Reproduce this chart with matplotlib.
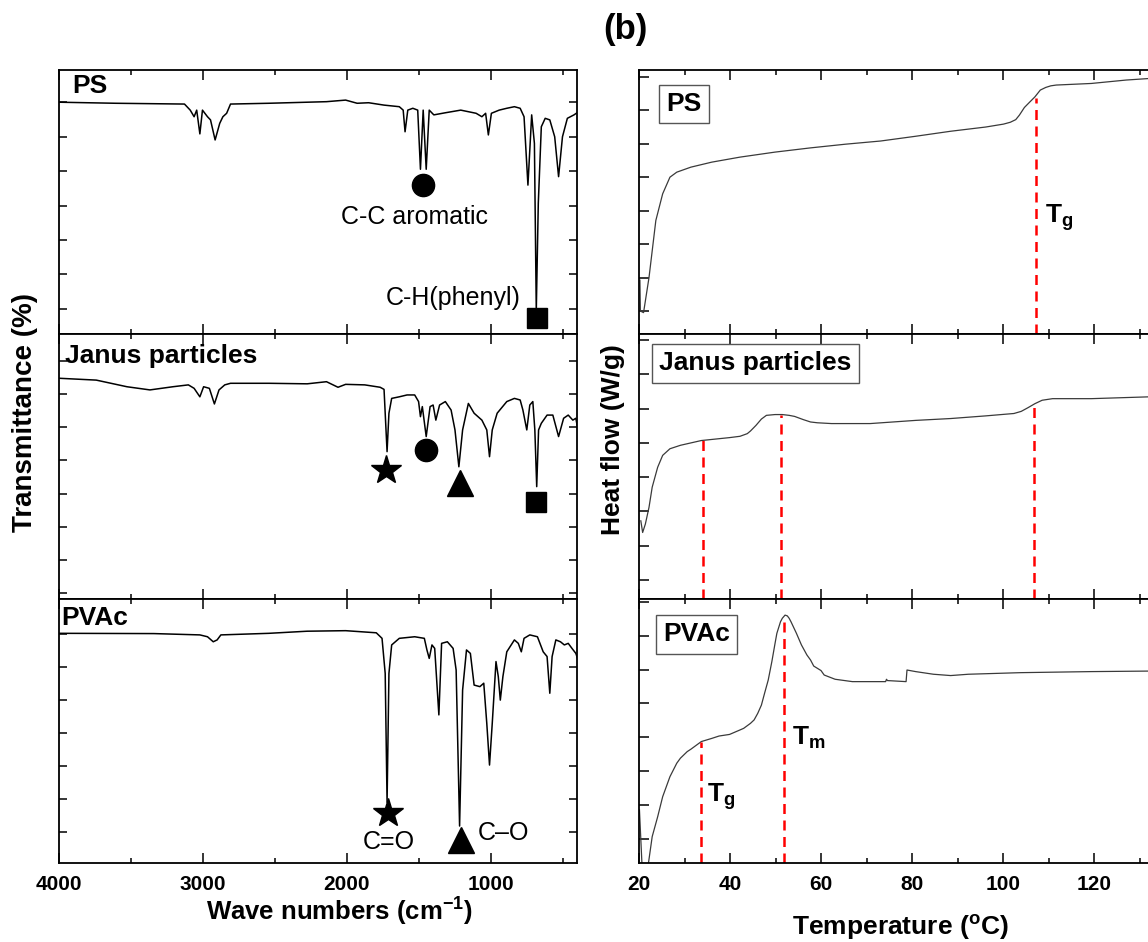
import numpy as np
import matplotlib
matplotlib.use("Agg")
import matplotlib.pyplot as plt

plt.rcParams['font.family'] = ['Liberation Sans', 'DejaVu Sans']
plt.rcParams['mathtext.fontset'] = 'custom'
plt.rcParams['mathtext.rm'] = 'Liberation Sans'
plt.rcParams['mathtext.bf'] = 'Liberation Sans:bold'
plt.rcParams['mathtext.it'] = 'Liberation Sans:italic'

# ---------------- FTIR data (wavenumber cm-1, transmittance in panel %) ----------------
ps_ir_wn = [4000, 3608, 3128, 3088, 3061, 3043, 3021, 3003, 2968, 2947, 2915, 2883, 2861, 2835, 2808,
            2541, 2141, 2008, 1928, 1848, 1741, 1635, 1608, 1595, 1576, 1541, 1507, 1488, 1469, 1448,
            1427, 1395, 1315, 1208, 1101, 1061, 1035, 1016, 995, 941, 888, 835, 795, 768, 741, 715,
            696, 683, 669, 648, 621, 589, 555, 528, 501, 467, 421, 389]
ps_ir_t = [87.8, 87.4, 87.1, 84.8, 82.3, 84.8, 75.8, 84.8, 82.3, 81.1, 73.5, 79.8, 82.3, 83.6, 87.1,
           87.4, 88.0, 88.6, 87.4, 87.6, 86.7, 86.1, 84.8, 76.6, 84.8, 85.5, 84.8, 62.4, 84.8, 62.4,
           84.8, 83.0, 83.8, 84.8, 83.6, 82.3, 83.6, 75.4, 83.6, 84.8, 85.5, 86.1, 85.5, 82.3, 56.4, 83.0,
           72.2, 9.0, 49.5, 78.5, 81.7, 81.1, 74.7, 59.6, 74.7, 81.7, 83.0, 84.2]

janus_ir_wn = [4000, 3741, 3528, 3368, 3208, 3101, 3061, 3021, 2995, 2955, 2920, 2888, 2848, 2808,
               2541, 2275, 2141, 2061, 2008, 1875, 1768, 1741, 1733, 1720, 1707, 1688, 1635, 1581,
               1528, 1501, 1488, 1475, 1448, 1421, 1400, 1381, 1355, 1315, 1275, 1248, 1221, 1195,
               1155, 1115, 1061, 1027, 1008, 989, 955, 888, 835, 795, 776, 749, 728, 707, 693, 680,
               667, 648, 608, 568, 528, 493, 461, 429, 408, 389]
janus_ir_t = [83.3, 82.6, 80.1, 78.9, 80.1, 80.8, 79.5, 76.3, 80.1, 79.5, 73.6, 78.9, 80.8, 81.4,
              81.4, 81.2, 82.0, 79.9, 81.0, 80.8, 79.9, 79.1, 70.1, 55.6, 70.1, 75.7, 76.3, 77.0,
              77.0, 74.5, 68.8, 72.6, 61.3, 72.6, 73.2, 67.5, 73.2, 74.5, 71.3, 63.8, 49.9, 63.8,
              73.8, 70.1, 67.5, 63.8, 53.7, 63.8, 70.1, 74.5, 75.7, 75.1, 71.3, 63.8, 73.2, 74.5, 63.8, 42.4,
              63.8, 66.3, 69.4, 69.4, 61.3, 68.2, 69.4, 67.5, 68.2, 62.5]

pvac_ir_wn = [4000, 3341, 3021, 2968, 2928, 2901, 2875, 2541, 2275, 2008, 1795, 1755, 1733, 1720,
              1707, 1688, 1635, 1528, 1461, 1443, 1427, 1408, 1389, 1360, 1341, 1301, 1261, 1240,
              1216, 1195, 1168, 1141, 1115, 1075, 1048, 1027, 1008, 989, 963, 947, 933, 915, 888,
              835, 808, 787, 768, 728, 675, 635, 608, 589, 573, 547, 515, 488, 461, 435, 408, 389]
pvac_ir_t = [87.0, 86.9, 86.4, 85.7, 83.8, 84.5, 86.4, 87.0, 87.8, 88.0, 87.2, 85.1, 71.8, 23.0,
             71.8, 82.6, 85.1, 85.7, 85.1, 80.7, 77.5, 82.6, 81.3, 56.1, 83.2, 83.8, 81.3, 73.1,
             14.0, 65.5, 80.7, 79.4, 67.4, 66.8, 68.1, 52.9, 37.1, 52.9, 76.3, 70.6, 61.7, 70.6, 80.0,
             84.5, 83.2, 80.0, 85.1, 86.4, 85.7, 80.0, 78.2, 64.3, 78.2, 84.5, 83.8, 82.6, 83.2, 81.3, 79.4, 76.3]

# band markers (wavenumber, transmittance) and labels
ps_circle = (1467, 56.4)
ps_square = (680, 5.9)
ps_labels = [("C-C aromatic", 1528, 44.4), ("C-H(phenyl)", 1261, 13.5)]
janus_star = (1728, 48.7)
janus_circle = (1448, 56.2)
janus_triangle = (1216, 43.6)
janus_square = (688, 36.7)
pvac_star = (1715, 18.8)
pvac_triangle = (1208, 8.7)
pvac_labels = [("C=O", 1709, 8.1), ("C\u2013O", 1088, 11.5)]

# ---------------- DSC data (temperature degC, heat flow in panel %) ----------------
ps_dsc_temp = [20.2, 20.3, 21.0, 22.2, 23.7, 25.2, 26.8, 28.3, 31.4, 36.0, 42.2, 49.9, 57.7, 65.4,
               73.1, 80.8, 88.5, 96.2, 100.1, 101.6, 102.8, 103.6, 104.7, 105.9, 107.0, 108.2, 109.4,
               110.5, 111.7, 119.4, 127.1, 132.3, 140.0]
ps_dsc_hf = [20.4, 8.7, 8.1, 21.4, 43.0, 53.1, 59.4, 61.3, 63.2, 65.1, 67.0, 68.9, 70.5, 71.9,
             73.1, 74.9, 76.8, 78.4, 79.5, 80.2, 81.2, 82.9, 85.8, 87.9, 89.8, 92.4, 93.4,
             94.0, 94.3, 94.9, 96.2, 96.8, 97.3]

janus_dsc_temp = [20.4, 20.8, 21.4, 22.2, 22.9, 24.1, 25.2, 26.8, 29.1, 33.7,
                  39.9, 42.2, 43.8, 44.5, 45.7, 46.9, 48.0, 49.9, 51.5, 53.0,
                  54.2, 56.1, 57.7, 59.2, 62.3, 70.8, 80.8, 88.5, 96.2, 102.4,
                  104.0, 105.5, 107.0, 108.6, 110.9, 119.4, 132.3, 140.0]
janus_dsc_hf = [29.5, 25.1, 28.3, 34.6, 42.2, 49.7, 54.2, 56.7, 58.0, 59.8,
                60.9, 61.4, 62.4, 63.4, 65.5, 67.9, 69.3, 69.6, 69.6, 69.3,
                68.9, 67.7, 66.8, 66.5, 66.2, 66.2, 67.4, 68.1, 69.1, 70.0,
                70.8, 72.2, 73.7, 75.0, 75.6, 75.6, 76.3, 76.5]

pvac_dsc_temp = [20.1, 20.8, 22.0, 22.9, 24.1, 25.2, 26.8, 28.3, 29.1, 30.6, 31.4, 33.7, 36.0, 37.6,
                 39.9, 42.2, 43.0, 44.5, 45.3, 46.1, 46.9, 47.6, 48.4, 49.2, 49.9, 50.3, 51.1, 51.5,
                 52.1, 52.6, 53.0, 53.4, 54.6, 55.7, 56.9, 57.7, 58.4, 60.0, 60.7, 63.1, 66.9, 74.2,
                 74.4, 74.6, 78.7, 78.9, 80.8, 84.7, 88.5, 92.4, 103.9, 119.4, 132.3, 140.0]
pvac_dsc_hf = [20.1, -6.0, -1.0, 10.0, 17.5, 25.1, 32.7, 37.8, 39.7, 42.2, 43.1, 46.0, 47.2, 48.1,
               48.7, 50.4, 51.0, 52.9, 54.2, 56.7, 59.8, 64.3, 69.3, 76.3, 83.2, 87.0, 91.4, 92.7,
               93.9, 93.6, 92.7, 91.4, 87.0, 82.6, 78.8, 76.9, 74.6, 72.9, 71.2, 69.6, 68.7, 68.7,
               69.6, 69.1, 68.7, 73.1, 72.5, 71.5, 71.0, 71.5, 72.1, 72.5, 72.7, 72.8]

# transition temperatures (temperature, heat flow where dashed line ends)
ps_trans = [(107.2, 89.3)]
janus_trans = [(34.0, 59.9), (51.3, 69.5), (106.9, 73.0)]
pvac_trans = [(33.7, 46.0), (51.9, 93.5)]
ps_trans_labels = [("T", "g", 109.2, 44.2)]
pvac_trans_labels = [("T", "g", 35.0, 25.1), ("T", "m", 53.7, 47.3)]

temp_ticks = [20, 40, 60, 80, 100, 120, 140]
temp_ticklabels = ["20", "40", "60", "80", "100", "120", ""]
wn_ticks = [4000, 3000, 2000, 1000]
wn_ticklabels = ["4000", "3000", "2000", "1000"]

# ---------------- layout ----------------
W, H = 1148, 942
fig = plt.figure(figsize=(W / 100, H / 100), dpi=100)

def fx(px):
    return px / W

def fy(py):
    return 1 - py / H

bounds = [70, 334, 599, 863]
lw_spine = 1.3

left_axes = []
right_axes = []
for i in range(3):
    top, bot = bounds[i], bounds[i + 1]
    axl = fig.add_axes([fx(59), fy(bot), fx(518), (bot - top) / H])
    axr = fig.add_axes([fx(639), fy(bot), fx(591.5), (bot - top) / H])
    left_axes.append(axl)
    right_axes.append(axr)

ir_series = [(ps_ir_wn, ps_ir_t), (janus_ir_wn, janus_ir_t), (pvac_ir_wn, pvac_ir_t)]
ir_names = ["PS", "Janus particles", "PVAc"]
ir_name_pos = [(0.025, 0.94), (0.012, 0.917), (0.005, 0.928)]
ir_yticks = [np.arange(9.5, 90, 13.05), np.arange(2.3, 95, 12.5), np.arange(11.7, 95, 12.5)]

for ax, (wn, t), name, pos, yt in zip(left_axes, ir_series, ir_names, ir_name_pos, ir_yticks):
    ax.plot(wn, t, color='black', lw=1.1)
    ax.set_xlim(4000, 400)
    ax.set_ylim(0, 100)
    ax.set_xticks(wn_ticks)
    ax.set_xticks([3500, 2500, 1500, 500], minor=True)
    ax.set_yticks(yt)
    ax.set_yticklabels([])
    ax.tick_params(which='both', direction='in', top=True, right=True, width=1.1)
    ax.tick_params(axis='x', which='major', length=7)
    ax.tick_params(axis='x', which='minor', length=3.6)
    ax.tick_params(axis='y', which='major', length=5.5)
    for s in ax.spines.values():
        s.set_linewidth(lw_spine)
    ax.text(pos[0], pos[1], name, transform=ax.transAxes, ha='left', va='center',
            fontsize=19, fontweight='bold')

for ax in left_axes[:2]:
    ax.set_xticklabels([])
left_axes[2].set_xticklabels(wn_ticklabels, fontsize=15, fontweight='bold')
left_axes[2].tick_params(axis='x', pad=9)

mk = dict(color='black', linestyle='none')
a = left_axes[0]
a.plot(*ps_circle, marker='o', markersize=16, **mk)
a.plot(*ps_square, marker='s', markersize=15, **mk)
for txt, x, y in ps_labels:
    a.text(x, y, txt, ha='center', va='center', fontsize=18)
a = left_axes[1]
a.plot(*janus_star, marker='*', markersize=22, **mk)
a.plot(*janus_circle, marker='o', markersize=16, **mk)
a.plot(*janus_triangle, marker='^', markersize=19, **mk)
a.plot(*janus_square, marker='s', markersize=15, **mk)
a = left_axes[2]
a.plot(*pvac_star, marker='*', markersize=22, **mk)
a.plot(*pvac_triangle, marker='^', markersize=19, **mk)
a.text(pvac_labels[0][1], pvac_labels[0][2], pvac_labels[0][0], ha='center', va='center', fontsize=18)
a.text(pvac_labels[1][1], pvac_labels[1][2], pvac_labels[1][0], ha='left', va='center', fontsize=18)

# ---------------- DSC panels ----------------
dsc_series = [(ps_dsc_temp, ps_dsc_hf), (janus_dsc_temp, janus_dsc_hf), (pvac_dsc_temp, pvac_dsc_hf)]
dsc_trans = [ps_trans, janus_trans, pvac_trans]
dsc_name_pos = [(0.0456, 0.871), (0.0338, 0.89), (0.0406, 0.867)]
dsc_yticks = [np.arange(8.7, 100, 12.66), np.arange(7.2, 100, 12.93), np.arange(9.1, 100, 12.83)]

for ax, (tt, hf), trans, name, pos, yt in zip(right_axes, dsc_series, dsc_trans, ir_names,
                                               dsc_name_pos, dsc_yticks):
    ax.plot(tt, hf, color='#3a3a3a', lw=0.9)
    for (tx, hy) in trans:
        ax.plot([tx, tx], [0, hy], color='red', lw=1.8, linestyle=(0, (4, 2.6)))
    ax.set_xlim(20, 150)
    ax.set_ylim(0, 100)
    ax.set_xticks(temp_ticks)
    ax.set_xticks(np.arange(30, 151, 20), minor=True)
    ax.set_yticks(yt)
    ax.set_yticklabels([])
    ax.tick_params(which='both', direction='in', top=True, right=True, width=1.1)
    ax.tick_params(axis='x', which='major', length=7)
    ax.tick_params(axis='x', which='minor', length=3.6)
    ax.tick_params(axis='y', which='major', length=7)
    for s in ax.spines.values():
        s.set_linewidth(lw_spine)
    ax.text(pos[0], pos[1], name, transform=ax.transAxes, ha='left', va='center',
            fontsize=19, fontweight='bold',
            bbox=dict(boxstyle='square,pad=0.28', facecolor='white', edgecolor='#555555', lw=1.0))

for ax in right_axes[:2]:
    ax.set_xticklabels([])
right_axes[2].set_xticklabels(temp_ticklabels, fontsize=15, fontweight='bold')
right_axes[2].tick_params(axis='x', pad=9)

for (base, sub, x, y) in ps_trans_labels:
    right_axes[0].text(x, y, r"$\mathbf{%s_{%s}}$" % (base, sub), fontsize=19, ha='left', va='center')
for (base, sub, x, y) in pvac_trans_labels:
    right_axes[2].text(x, y, r"$\mathbf{%s_{%s}}$" % (base, sub), fontsize=19, ha='left', va='center')

# ---------------- labels ----------------
fig.text(fx(625), fy(30), "(b)", fontsize=25, fontweight='bold', ha='center', va='center')
fig.text(fx(25), fy(412), "Transmittance (%)", fontsize=20, fontweight='bold',
         rotation=90, ha='center', va='center')
fig.text(fx(339), fy(912), r"Wave numbers (cm$^{\mathbf{-1}}$)", fontsize=18.5, fontweight='bold',
         ha='center', va='center')
fig.text(fx(613), fy(440), "Heat flow (W/g)", fontsize=19, fontweight='bold',
         rotation=90, ha='center', va='center')
fig.text(fx(900), fy(928), r"Temperature ($\mathbf{^o}$C)", fontsize=19, fontweight='bold',
         ha='center', va='center')

fig.savefig("out.png", dpi=100)
